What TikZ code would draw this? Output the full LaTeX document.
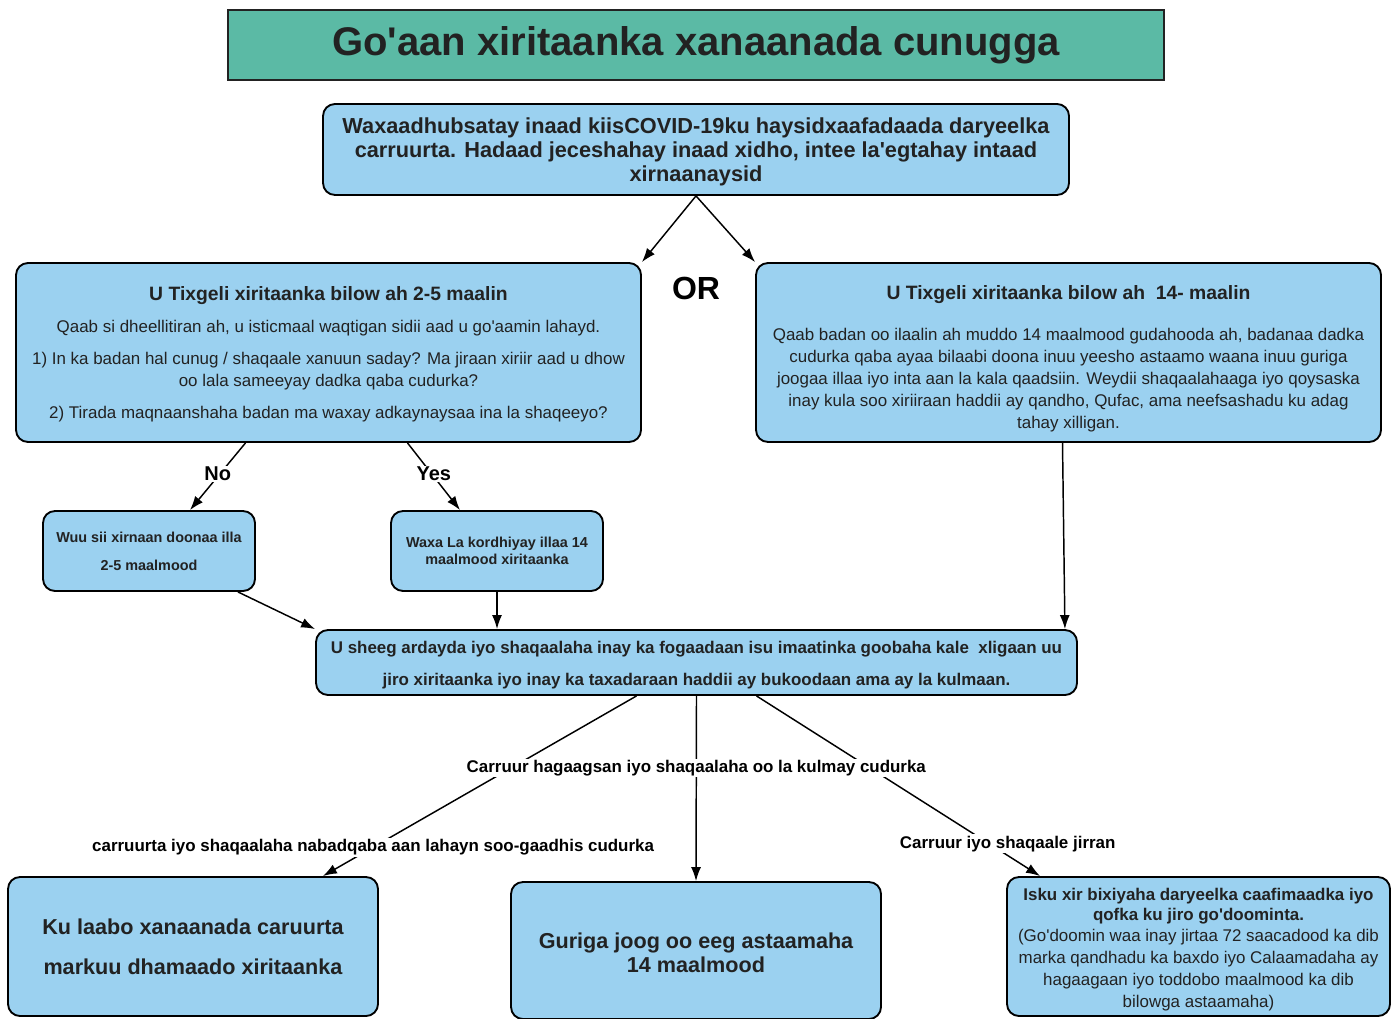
\documentclass[tikz,border=0pt]{standalone}
\usepackage{fontspec}
\setmainfont{Liberation Sans}[Ligatures=TeXOff]
\usepackage{tikz}
\usetikzlibrary{arrows.meta,calc}
\definecolor{boxblue}{RGB}{155,209,240}
\definecolor{titleteal}{RGB}{91,186,165}
\definecolor{inkgray}{RGB}{34,34,34}

\begin{document}
\begin{tikzpicture}[x=0.75pt,y=-0.75pt,>={Latex[length=10.5pt,width=7.5pt]},
    box/.style={draw=black,line width=1.4pt,fill=boxblue,rounded corners=9pt,
        align=center,text=inkgray,inner sep=0pt},
    edge/.style={->,line width=1.1pt},
    choice/.style={fill=white,inner sep=1pt,font=\bfseries\fontsize{15}{18}\selectfont},
    tag/.style={fill=white,inner sep=1pt,font=\bfseries\fontsize{12.7}{15}\selectfont}]
    \useasboundingbox (0,0) rectangle (1398,1019);

    \node[draw=inkgray,line width=1.4pt,fill=titleteal,minimum width=702pt,
        minimum height=52.5pt,text=inkgray,font=\bfseries\fontsize{30}{36}\selectfont]
        (title) at (696,45) {\mbox{}\\[-9.5pt]Go'aan xiritaanka xanaanada cunugga};

    \node[box,minimum width=559.5pt,minimum height=68.25pt,
        font=\bfseries\fontsize{16.3}{18}\selectfont] (intro) at (696,149.5)
        {\mbox{}\\[-2pt]Waxaadhubsatay inaad kiisCOVID-19ku haysidxaafadaada daryeelka\\
         carruurta. Hadaad jeceshahay inaad xidho, intee la'egtahay intaad\\
         xirnaanaysid};

    \node[font=\bfseries\fontsize{24}{28}\selectfont] (or) at (696,288) {OR};

    \node[box,minimum width=468.75pt,minimum height=134.25pt,
        font=\fontsize{12.7}{16.5}\selectfont] (short) at (328.5,352.5)
        {\mbox{}\\[-2.9pt]{\bfseries\fontsize{14.5}{16.5}\selectfont U Tixgeli xiritaanka bilow ah 2-5 maalin}\\[7.5pt]
         Qaab si dheellitiran ah, u isticmaal waqtigan sidii aad u go'aamin lahayd.\\[7.5pt]
         1) In ka badan hal cunug / shaqaale xanuun saday? Ma jiraan xiriir aad u dhow\\
         oo lala sameeyay dadka qaba cudurka?\\[7.5pt]
         2) Tirada maqnaanshaha badan ma waxay adkaynaysaa ina la shaqeeyo?};

    \node[box,minimum width=468.75pt,minimum height=134.25pt,
        font=\fontsize{12.7}{16.5}\selectfont] (long) at (1068.5,352.5)
        {\mbox{}\\[3.1pt]{\bfseries\fontsize{14.5}{16.5}\selectfont U Tixgeli xiritaanka bilow ah \ 14- maalin}\\[14.5pt]
         Qaab badan oo ilaalin ah muddo 14 maalmood gudahooda ah, badanaa dadka\\
         cudurka qaba ayaa bilaabi doona inuu yeesho astaamo waana inuu guriga\\
         joogaa illaa iyo inta aan la kala qaadsiin. Weydii shaqaalahaaga iyo qoysaska\\
         inay kula soo xiriiraan haddii ay qandho, Qufac, ama neefsashadu ku adag\\
         tahay xilligan.};

    \node[box,minimum width=159pt,minimum height=60pt,
        font=\bfseries\fontsize{10.8}{21}\selectfont] (keep) at (149,551)
        {Wuu sii xirnaan doonaa illa\\2-5 maalmood};
    \node[box,minimum width=159pt,minimum height=60pt,
        font=\bfseries\fontsize{10.8}{12.75}\selectfont] (extend) at (497,551)
        {Waxa La kordhiyay illaa 14\\maalmood xiritaanka};

    \node[box,minimum width=570.75pt,minimum height=48.75pt,
        font=\bfseries\fontsize{12.7}{24}\selectfont] (advise) at (696.5,662.5)
        {\mbox{}\\[-10.2pt]U sheeg ardayda iyo shaqaalaha inay ka fogaadaan isu imaatinka goobaha kale \ xligaan uu\\
         jiro xiritaanka iyo inay ka taxadaraan haddii ay bukoodaan ama ay la kulmaan.};

    \node[box,minimum width=277.5pt,minimum height=104.25pt,
        font=\bfseries\fontsize{16.2}{30}\selectfont] (back) at (193,946.5)
        {Ku laabo xanaanada caruurta\\markuu dhamaado xiritaanka};
    \node[box,minimum width=277.5pt,minimum height=102.75pt,
        font=\bfseries\fontsize{16.2}{18}\selectfont] (home) at (696,950.5)
        {\mbox{}\\[-3.2pt]Guriga joog oo eeg astaamaha\\14 maalmood};
    \node[box,minimum width=287.25pt,minimum height=104.25pt,
        font=\fontsize{12.7}{16.5}\selectfont] (doctor) at (1198.5,946.5)
        {\mbox{}\\[-2.7pt]{\bfseries Isku xir bixiyaha daryeelka caafimaadka iyo}\\[-1.5pt]
         {\bfseries qofka ku jiro go'doominta.}\\[-1pt]
         (Go'doomin waa inay jirtaa 72 saacadood ka dib\\
         marka qandhadu ka baxdo iyo Calaamadaha ay\\
         hagaagaan iyo toddobo maalmood ka dib\\
         bilowga astaamaha)};

    \draw[edge] (intro.south) -- (short.north east);
    \draw[edge] (intro.south) -- (long.north west);
    \draw[edge] ($(short.south)+(-83,0)$) -- node[choice,yshift=2pt] (no) {No} ($(keep.north)+(41,0)$);
    \draw[edge] ($(short.south)+(79,0)$) -- node[choice,yshift=2pt] (yes) {Yes} ($(extend.north)+(-37,0)$);
    \draw[edge] ($(keep.south east)+(-18,0)$) -- (advise.north west);
    \draw[edge] (extend.south) -- (extend.south |- advise.north);
    \draw[edge] ($(long.south)+(-6,0)$) -- ($(advise.north east)+(-13,0)$);

    \draw[edge] ($(advise.south)+(-60,0)$) -- node[tag,pos=.84] (safe)
        {carruurta iyo shaqaalaha nabadqaba aan lahayn soo-gaadhis cudurka}
        ($(back.north east)+(-56,0)$);
    \draw[edge] ($(advise.south)+(60,0)$) -- node[tag,pos=.82,xshift=14pt] (sick)
        {Carruur iyo shaqaale jirran} ($(doctor.north west)+(34,0)$);
    \draw[edge] (advise.south) -- node[tag,pos=.39] (met)
        {Carruur hagaagsan iyo shaqaalaha oo la kulmay cudurka} (home.north);
\end{tikzpicture}
\end{document}
